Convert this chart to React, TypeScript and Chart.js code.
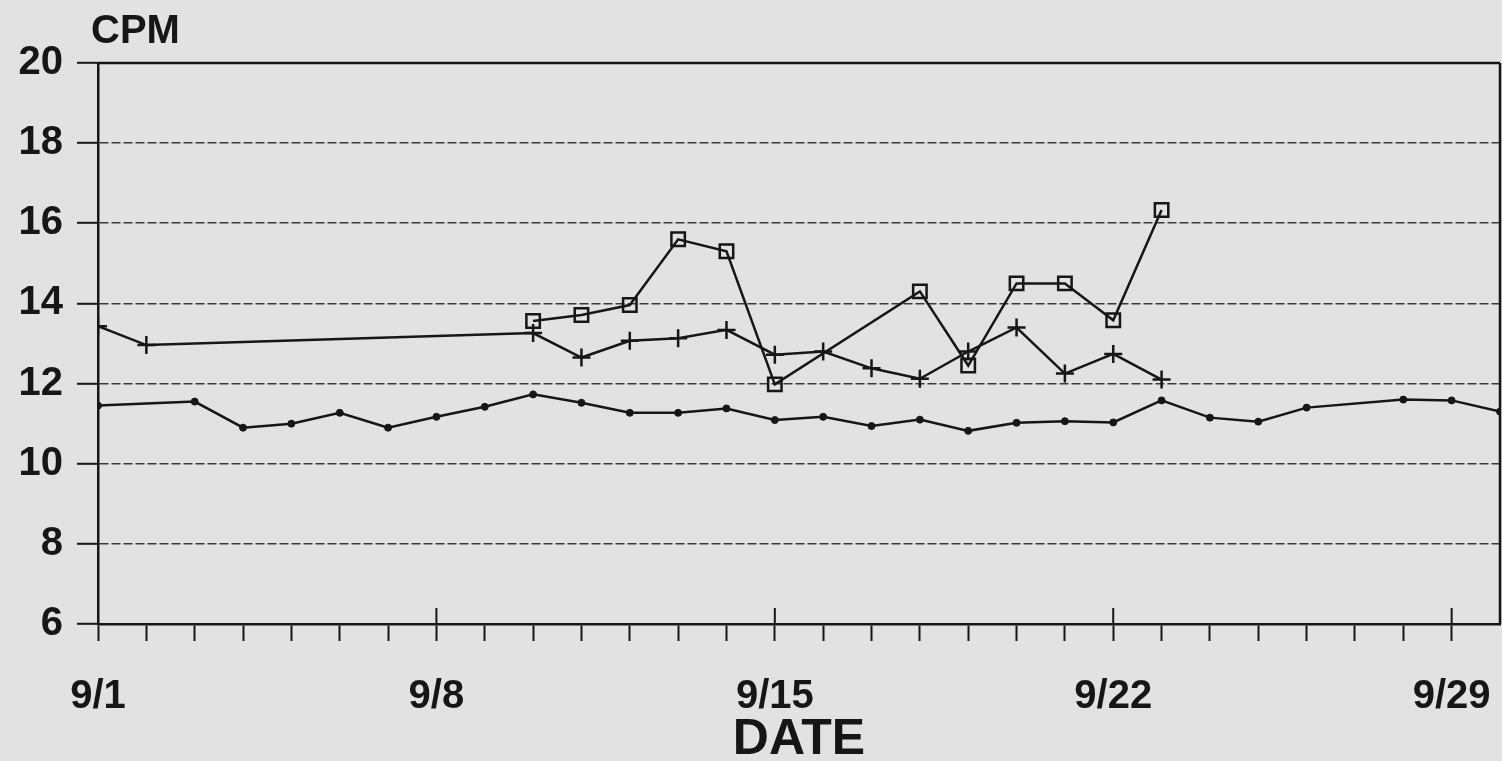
import React, { useEffect, useRef } from "react";
import { Chart, registerables } from "chart.js";

Chart.register(...registerables);

// Days counted from 9/1 (0 = 9/1)
const dateLabels = ["9/1", "9/8", "9/15", "9/22", "9/29"];
const majorTickDays = [0, 7, 14, 21, 28];

const dotDays = [0, 2, 3, 4, 5, 6, 7, 8, 9, 10, 11, 12, 13, 14, 15, 16, 17, 18, 19, 20, 21, 22, 23, 24, 25, 27, 28, 29];
const dotValues = [11.45, 11.55, 10.9, 11.0, 11.27, 10.9, 11.17, 11.42, 11.73, 11.52, 11.27, 11.27, 11.38, 11.09, 11.17, 10.94, 11.1, 10.82, 11.02, 11.06, 11.03, 11.58, 11.15, 11.05, 11.4, 11.6, 11.58, 11.3];

const plusDays = [0, 1, 9, 10, 11, 12, 13, 14, 15, 16, 17, 18, 19, 20, 21, 22];
const plusValues = [13.43, 12.96, 13.26, 12.65, 13.07, 13.13, 13.34, 12.72, 12.8, 12.38, 12.12, 12.8, 13.4, 12.25, 12.74, 12.1];

const squareDays = [9, 10, 11, 12, 13, 14, 17, 18, 19, 20, 21, 22];
const squareValues = [13.56, 13.71, 13.96, 15.6, 15.3, 11.98, 14.3, 12.45, 14.5, 14.5, 13.58, 16.33];

const yTicks = { min: 6, max: 20, step: 2 };
const xRange = { min: 0, max: 29 };

const INK = "#161616";
const BG = "#e2e2e2";
const FONT = "'Liberation Sans', Arial, Helvetica, sans-serif";

const toPoints = (xs: number[], ys: number[]) => xs.map((x, i) => ({ x, y: ys[i] }));

const framePlugin = {
  id: "frameAndMajorTicks",
  afterDraw(chart: any) {
    const { ctx, chartArea, scales } = chart;
    const xs = scales.x;
    ctx.save();
    ctx.strokeStyle = INK;
    ctx.lineWidth = 2.5;
    ctx.beginPath();
    ctx.moveTo(chartArea.left, chartArea.top);
    ctx.lineTo(chartArea.right, chartArea.top);
    ctx.moveTo(chartArea.right, chartArea.top);
    ctx.lineTo(chartArea.right, chartArea.bottom);
    ctx.stroke();
    ctx.lineWidth = 2;
    ctx.beginPath();
    majorTickDays.forEach((d) => {
      const px = xs.getPixelForValue(d);
      ctx.moveTo(px, chartArea.bottom - 16);
      ctx.lineTo(px, chartArea.bottom);
    });
    ctx.stroke();
    ctx.fillStyle = INK;
    ctx.font = `bold 40px ${FONT}`;
    ctx.textAlign = "left";
    ctx.textBaseline = "alphabetic";
    ctx.fillText("CPM", chartArea.left - 7, chartArea.top - 20);
    ctx.restore();
  },
};

export default function App() {
  const canvasRef = useRef<HTMLCanvasElement | null>(null);

  useEffect(() => {
    document.body.style.margin = "0";
    document.body.style.background = BG;
    const canvas = canvasRef.current;
    if (!canvas) return;
    const chart = new Chart(canvas, {
      type: "line",
      data: {
        datasets: [
          {
            label: "dots",
            data: toPoints(dotDays, dotValues),
            borderColor: INK,
            borderWidth: 2.5,
            pointStyle: "circle",
            pointRadius: 3.5,
            pointBackgroundColor: INK,
            pointBorderColor: INK,
            pointBorderWidth: 1,
            tension: 0,
          },
          {
            label: "plus",
            data: toPoints(plusDays, plusValues),
            borderColor: INK,
            borderWidth: 2.5,
            pointStyle: "cross",
            pointRadius: 9,
            pointBorderColor: INK,
            pointBorderWidth: 2.5,
            tension: 0,
          },
          {
            label: "squares",
            data: toPoints(squareDays, squareValues),
            borderColor: INK,
            borderWidth: 2.5,
            pointStyle: "rect",
            pointRadius: 9.5,
            pointBackgroundColor: "rgba(0,0,0,0)",
            pointBorderColor: INK,
            pointBorderWidth: 2.5,
            tension: 0,
          },
        ],
      },
      options: {
        animation: false,
        responsive: false,
        devicePixelRatio: 1,
        layout: { autoPadding: false, padding: { left: 0, right: 2, top: 63, bottom: 0 } },
        plugins: { legend: { display: false }, tooltip: { enabled: false } },
        scales: {
          x: {
            type: "linear",
            min: xRange.min,
            max: xRange.max,
            ticks: {
              stepSize: 1,
              autoSkip: false,
              maxRotation: 0,
              padding: 32,
              color: INK,
              font: { family: FONT, size: 40, weight: "bold" },
              callback: (v: any) => {
                const i = majorTickDays.indexOf(Number(v));
                return i >= 0 ? dateLabels[i] : "";
              },
            },
            grid: {
              drawOnChartArea: false,
              tickLength: 17,
              tickWidth: 2,
              tickColor: (c: any) => (c.tick && c.tick.value === xRange.max ? "rgba(0,0,0,0)" : INK),
            },
            border: { display: true, color: INK, width: 2.5 },
            title: {
              display: true,
              text: "DATE",
              color: INK,
              font: { family: FONT, size: 50, weight: "bold", lineHeight: 0.85 },
              padding: 0,
            },
            afterFit: (s: any) => {
              s.height = 137;
              s.paddingLeft = 0;
              s.paddingRight = 0;
            },
          },
          y: {
            min: yTicks.min,
            max: yTicks.max,
            ticks: {
              stepSize: yTicks.step,
              padding: 14,
              color: INK,
              font: { family: FONT, size: 40, weight: "bold" },
            },
            grid: {
              color: "#3a3a3a",
              lineWidth: 1.6,
              tickLength: 21,
              tickWidth: 2,
              tickColor: INK,
            },
            border: { display: true, color: INK, width: 2.5, dash: [9, 3] },
            afterFit: (s: any) => {
              s.width = 98;
            },
          },
        },
      },
      plugins: [framePlugin],
    } as any);
    return () => chart.destroy();
  }, []);

  return (
    <div style={{ width: 1502, height: 761, background: BG }}>
      <canvas ref={canvasRef} width={1502} height={761} style={{ display: "block" }} />
    </div>
  );
}
